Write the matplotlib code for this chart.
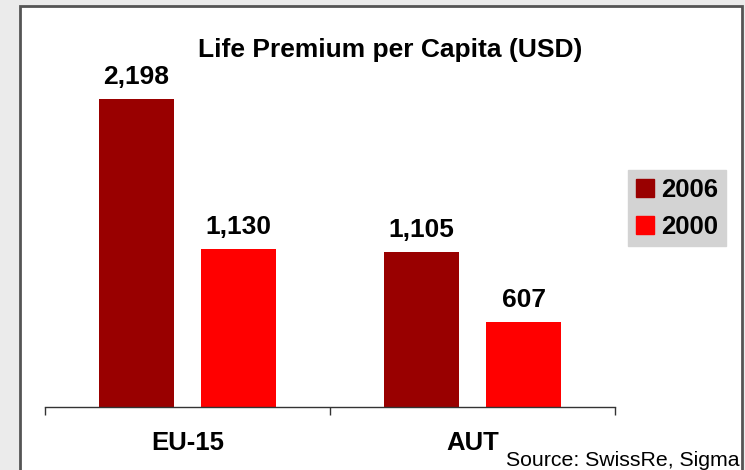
import matplotlib
matplotlib.use("Agg")
import matplotlib.pyplot as plt
from matplotlib.patches import Rectangle, Patch

categories = ["EU-15", "AUT"]
series_names = ["2006", "2000"]
values_2006 = [2198, 1105]
values_2000 = [1130, 607]
colors = ["#990000", "#ff0000"]

W, H = 745, 470
fig = plt.figure(figsize=(W / 100, H / 100), dpi=100)
fig.patch.set_facecolor("#ebebeb")

# white panel with dark border
panel = Rectangle((20 / W, -0.05), (742 - 20) / W, (H - 6) / H + 0.05,
                  transform=fig.transFigure, facecolor="white",
                  edgecolor="#555555", linewidth=2, zorder=-5)
fig.patches.append(panel)

# axes in pixel layout
left, right, bottom = 45, 615, 407
ymax = 2500
top = bottom - ymax * 308 / 2198
ax = fig.add_axes([left / W, (H - bottom) / H, (right - left) / W, (bottom - top) / H])
ax.set_zorder(2)
ax.set_facecolor("none")
ax.set_xlim(0, 2)
ax.set_ylim(0, ymax)

xs = [0.5, 1.5]
bw = 0.26
off = 0.179
b1 = ax.bar([x - off for x in xs], values_2006, width=bw, color=colors[0], label=series_names[0])
b2 = ax.bar([x + off for x in xs], values_2000, width=bw, color=colors[1], label=series_names[1])

for bars, vals in ((b1, values_2006), (b2, values_2000)):
    for r, v in zip(bars, vals):
        ax.annotate(f"{v:,}", (r.get_x() + r.get_width() / 2, v), xytext=(0, 7),
                    textcoords="offset points", ha="center", va="bottom",
                    fontsize=19, fontweight="bold", family="Liberation Sans")

for s in ("top", "right", "left"):
    ax.spines[s].set_visible(False)
ax.spines["bottom"].set_color("#333333")
ax.spines["bottom"].set_linewidth(1)
ax.set_yticks([])
ax.set_xticks([0, 1, 2])
ax.set_xticklabels([])
ax.tick_params(axis="x", length=6, width=1, color="#333333", direction="out")
for x, c in zip(xs, categories):
    ax.text(x, -0.102, c, transform=ax.get_xaxis_transform(), ha="center", va="center",
            fontsize=18.5, fontweight="bold", family="Liberation Sans")

fig.text(390 / W, 1 - 50 / H, "Life Premium per Capita (USD)", ha="center", va="center",
         fontsize=19, fontweight="bold", family="Liberation Sans")

leg = fig.legend(handles=[Patch(color=colors[0], label=series_names[0]),
                          Patch(color=colors[1], label=series_names[1])],
                 loc="upper left", bbox_to_anchor=(628 / W, 1 - 170 / H),
                 prop={"family": "Liberation Sans", "weight": "bold", "size": 18.5},
                 frameon=True, fancybox=False, handlelength=0.7, handleheight=0.7,
                 handletextpad=0.3, borderpad=0.3, labelspacing=0.5, borderaxespad=0)
leg.get_frame().set_facecolor("#d3d3d3")
leg.get_frame().set_edgecolor("#d3d3d3")
leg.get_frame().set_alpha(1)

fig.text(740 / W, 1 - 461 / H, "Source: SwissRe, Sigma", ha="right", va="center",
         fontsize=15.3, family="Liberation Sans")

fig.savefig("out.png", dpi=100, facecolor=fig.get_facecolor())
